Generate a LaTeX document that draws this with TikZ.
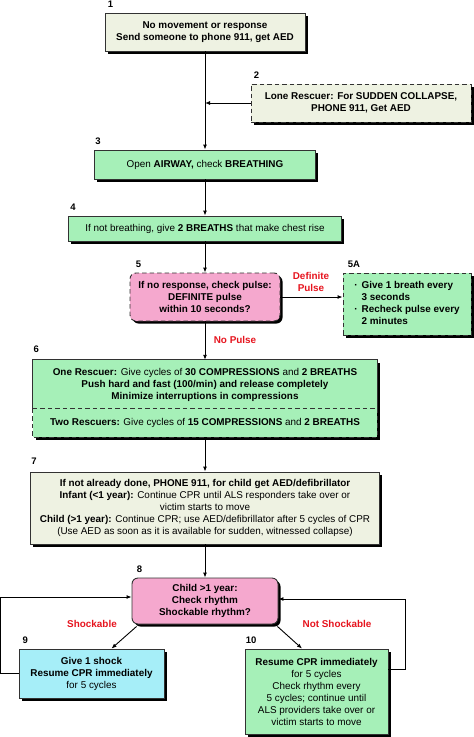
\documentclass[tikz,border=0pt]{standalone}
\usepackage{fontspec}
\setmainfont{Liberation Sans}
\usetikzlibrary{shadows,arrows.meta,calc}
\definecolor{beige}{RGB}{238,242,226}
\definecolor{mint}{RGB}{166,240,184}
\definecolor{rose}{RGB}{245,168,206}
\definecolor{aqua}{RGB}{166,238,248}
\definecolor{edge}{RGB}{50,50,50}
\definecolor{alert}{RGB}{230,20,30}
\newcommand{\regtxt}[1]{{\mdseries #1}}
\begin{document}
\begin{tikzpicture}[x=1pt,y=-1pt,
  bx/.style={draw=edge,line width=0.9pt,inner sep=0pt,align=center,
    font=\bfseries\fontsize{9.9}{12}\selectfont,
    drop shadow={shadow xshift=2.5pt,shadow yshift=-2.5pt,fill=black,opacity=1}},
  plain/.style={inner sep=0pt,align=center,font=\bfseries\fontsize{9.9}{12}\selectfont},
  dsh/.style={dash pattern=on 4.5pt off 3pt},
  numlab/.style={inner sep=0pt,anchor=base west,font=\bfseries\fontsize{9.5}{10}\selectfont},
  rlab/.style={inner sep=0pt,align=center,text=alert,font=\bfseries\fontsize{9.9}{12}\selectfont},
  arr/.style={line width=0.9pt,-{Latex[length=5pt,width=4pt]}}]
\useasboundingbox (0,0) rectangle (474,737);

% Boxes
\node[bx,fill=beige,minimum width=200pt,minimum height=38pt] (b1) at (205,32)
  {No movement or response\\Send someone to phone 911, get AED};
\node[bx,dsh,fill=beige,minimum width=220pt,minimum height=38pt] (b2) at (361,103)
  {Lone Rescuer: For SUDDEN COLLAPSE,\\PHONE 911, Get AED};
\node[bx,fill=mint,minimum width=221pt,minimum height=29pt] (b3) at (205,164.5)
  {\regtxt{Open} AIRWAY, \regtxt{check} BREATHING};
\node[bx,fill=mint,minimum width=273pt,minimum height=25pt] (b4) at (205,228.5)
  {\regtxt{If not breathing, give} 2 BREATHS \regtxt{that make chest rise}};
\node[bx,dsh,fill=rose,rounded corners=6pt,minimum width=150pt,minimum height=48pt] (b5) at (205,297)
  {If no response, check pulse:\\DEFINITE pulse\\within 10 seconds?};
\node[bx,dsh,fill=mint,minimum width=128pt,minimum height=62pt] (b5a) at (407,304)
  {\begin{tabular}{@{}l@{\hspace{4pt}}l@{}}
   \textperiodcentered & Give 1 breath every\\
   & 3 seconds\\
   \textperiodcentered & Recheck pulse every\\
   & 2 minutes
   \end{tabular}};

% Box 6 (two sections)
\node[bx,draw=none,fill=mint,minimum width=344pt,minimum height=77pt] (b6) at (205,398.5) {};
\node[plain,minimum width=344pt,minimum height=49pt] (b6a) at (205,384.5)
  {One Rescuer: \regtxt{Give cycles of} 30 COMPRESSIONS \regtxt{and} 2 BREATHS\\
   Push hard and fast (100/min) and release completely\\
   Minimize interruptions in compressions};
\node[plain,minimum width=344pt,minimum height=28pt] (b6b) at (205,423)
  {\raisebox{2pt}{Two Rescuers: \regtxt{Give cycles of} 15 COMPRESSIONS \regtxt{and} 2 BREATHS}};
\draw[edge,line width=0.9pt] (b6b.north west) |- (b6a.north east) -- (b6b.north east);
\draw[edge,line width=0.9pt,dsh] (b6b.north west) -- (b6b.north east);
\draw[edge,line width=0.9pt,dsh] (b6b.north west) |- (b6b.south east) -- (b6b.north east);

\node[bx,fill=beige,minimum width=349pt,minimum height=72pt] (b7) at (205,508)
  {If not already done, PHONE 911, for child get AED/defibrillator\\
   Infant (<1 year): \regtxt{Continue CPR until ALS responders take over or}\\
   \regtxt{victim starts to move}\\
   Child (>1 year): \regtxt{Continue CPR; use AED/defibrillator after 5 cycles of CPR}\\
   \regtxt{(Use AED as soon as it is available for sudden, witnessed collapse)}};
\node[bx,fill=rose,rounded corners=6pt,minimum width=146pt,minimum height=46pt] (b8) at (205,601)
  {Child >1 year:\\Check rhythm\\Shockable rhythm?};
\node[bx,fill=aqua,minimum width=145pt,minimum height=49pt] (b9) at (91.5,673.5)
  {Give 1 shock\\Resume CPR immediately\\\regtxt{for 5 cycles}};
\node[bx,fill=mint,minimum width=143pt,minimum height=85pt] (b10) at (316.5,691.5)
  {Resume CPR immediately\\\regtxt{for 5 cycles}\\\regtxt{Check rhythm every}\\
   \regtxt{5 cycles; continue until}\\\regtxt{ALS providers take over or}\\\regtxt{victim starts to move}};

% Number labels
\node[numlab] (n1) at ($(b1.north west)+(3,-5)$) {1};
\node[numlab] (n2) at ($(b2.north west)+(3,-5)$) {2};
\node[numlab] (n3) at ($(b3.north west)+(1,-5)$) {3};
\node[numlab] (n4) at ($(b4.north west)+(2,-5)$) {4};
\node[numlab] (n5) at ($(b5.north west)+(6,-5)$) {5};
\node[numlab] (n5a) at ($(b5a.north west)+(5,-5)$) {5A};
\node[numlab] (n6) at ($(b6.north west)+(1,-7)$) {6};
\node[numlab] (n7) at ($(b7.north west)+(1,-7)$) {7};
\node[numlab] (n8) at ($(b8.north west)+(5,-5)$) {8};
\node[numlab] (n9) at ($(b9.north west)+(4,-5)$) {9};
\node[numlab] (n10) at ($(b10.north west)+(1,-5)$) {10};

% Red labels
\node[rlab] (dp) at (311,282) {Definite\\Pulse};
\node[rlab] (np) at (235,340) {No Pulse};
\node[rlab] (sh) at (92,624) {Shockable};
\node[rlab] (ns) at (337,624) {Not Shockable};

% Connectors
\draw[arr] (b1) -- (b3);
\draw[arr] (b2.west) -- (b2.west -| b1.south);
\draw[arr] (b3) -- (b4);
\draw[arr] (b4) -- (b5);
\draw[arr] (b5.east) -- (b5.east -| b5a.west);
\draw[arr] (b5) -- (b6a);
\draw[arr] (b6b) -- (b7);
\draw[arr] (b7) -- (b8);
\draw[arr] ($(b8.south west)+(5,2)$) -- ($(b9.north)+(20,0)$);
\draw[arr] ($(b8.south east)+(-1,2)$) -- ($(b10.north)+(-14.5,0)$);
\draw[arr] (b9.west) -- ++(-18,0) |- ($(b8.west)+(0,-4)$);
\draw[arr] ($(b10.east)+(0,-22)$) -- ++(17,0) |- ($(b8.east)+(0,-2)$);
\end{tikzpicture}
\end{document}
